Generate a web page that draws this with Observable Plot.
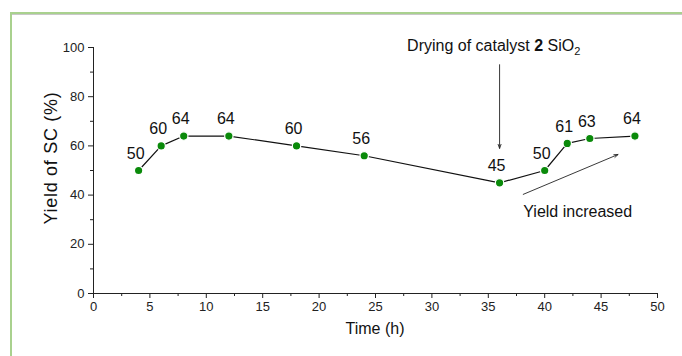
<!DOCTYPE html>
<html>
<head>
<meta charset="utf-8">
<script src="https://cdn.jsdelivr.net/npm/d3@7"></script>
<script src="https://cdn.jsdelivr.net/npm/@observablehq/plot@0.6"></script>
<style>
  html, body { margin: 0; padding: 0; background: #fff; }
  #wrap { position: relative; width: 682px; height: 356px; overflow: hidden; }
  #frame { position: absolute; left: 10px; top: 12px; width: 700px; height: 400px;
           border-top: 2px solid #a9d18e; border-left: 2px solid #a9d18e;
           box-shadow: inset 0 1px 0 #c8c8c8; pointer-events: none; }
  #chart { position: absolute; left: 0; top: 0; }
  #chart g[aria-label$="tick label"], #chart g[aria-label$="tick label"] text { font-size: 13px; fill: #222; }
</style>
</head>
<body>
<div id="wrap"><div id="chart"></div><div id="frame"></div></div>
<script>
// Data
const times  = [4, 6, 8, 12, 18, 24, 36, 40, 42, 44, 48];
const yields = [50, 60, 64, 64, 60, 56, 45, 50, 61, 63, 64];
const xMajorTicks = [0, 5, 10, 15, 20, 25, 30, 35, 40, 45, 50];
const xMinorTicks = [2.5, 7.5, 12.5, 17.5, 22.5, 27.5, 32.5, 37.5, 42.5, 47.5];
const yMajorTicks = [0, 20, 40, 60, 80, 100];
const yMinorTicks = [10, 30, 50, 70, 90];
const annotTexts = ["Drying of catalyst 2 SiO2", "Yield increased"];
const annotX = [27.8, 38.1];
const annotY = [100.8, 33.3];
const arrowX1 = [36, 38.1];
const arrowY1 = [93, 40.3];
const arrowX2 = [36, 46.5];
const arrowY2 = [59, 56.5];

const points = times.map((t, i) => ({t, y: yields[i]}));
const annots = annotTexts.map((s, i) => ({s, x: annotX[i], y: annotY[i]}));
const arrows = arrowX1.map((x1, i) => ({x1, y1: arrowY1[i], x2: arrowX2[i], y2: arrowY2[i]}));

const font = "Liberation Sans, Arial, sans-serif";

const chart = Plot.plot({
  width: 682,
  height: 356,
  marginLeft: 93,
  marginRight: 25,
  marginTop: 47,
  marginBottom: 63,
  style: {fontFamily: font, fontSize: "12px", color: "#222", background: "transparent"},
  x: {domain: [0, 50]},
  y: {domain: [0, 100]},
  marks: [
    Plot.axisX({ticks: xMajorTicks, tickSize: 5, tickPadding: 3, fontSize: 13, label: null, stroke: "#222", fill: "#222"}),
    Plot.axisX({ticks: xMinorTicks, tickSize: 3, tickFormat: () => "", label: null, stroke: "#222"}),
    Plot.axisY({ticks: yMajorTicks, tickSize: 5, tickPadding: 4, fontSize: 13, label: null, stroke: "#222", fill: "#222"}),
    Plot.axisY({ticks: yMinorTicks, tickSize: 3, tickFormat: () => "", label: null, stroke: "#222"}),
    Plot.ruleY([0], {stroke: "#222", strokeWidth: 1.2}),
    Plot.ruleX([0], {stroke: "#222", strokeWidth: 1}),
    Plot.line(points, {x: "t", y: "y", stroke: "#111", strokeWidth: 1.2}),
    Plot.dot(points, {x: "t", y: "y", r: 4.2, fill: "#0a8a0a", stroke: "#fff", strokeWidth: 1.2}),
    Plot.text(points, {x: "t", y: "y", text: d => String(d.y), dx: -3, dy: -17, fontSize: 16, fill: "#111"}),
    Plot.arrow(arrows, {x1: "x1", y1: "y1", x2: "x2", y2: "y2", stroke: "#222", strokeWidth: 0.9, headLength: 7, headAngle: 40}),
    Plot.text(annots, {x: "x", y: "y", text: "s", textAnchor: "start", fontSize: 16, fill: "#111"})
  ]
});

// Axis titles (text only)
const svg = d3.select(chart);
svg.append("text")
  .attr("transform", "translate(52,158) rotate(-90)")
  .attr("text-anchor", "middle").attr("dominant-baseline", "middle")
  .attr("font-size", 18).attr("letter-spacing", "0.7px").attr("fill", "#111").text("Yield of SC (%)");
svg.append("text")
  .attr("x", 375).attr("y", 330)
  .attr("text-anchor", "middle").attr("dominant-baseline", "middle")
  .attr("font-size", 16).attr("fill", "#111").text("Time (h)");

// Rich formatting for the annotation (bold "2", subscript "2")
svg.selectAll("text").each(function() {
  const el = d3.select(this);
  if (el.text() === "Drying of catalyst 2 SiO2") {
    el.text("");
    el.append("tspan").text("Drying of catalyst ");
    el.append("tspan").attr("font-weight", "bold").text("2");
    el.append("tspan").text(" SiO");
    el.append("tspan").attr("font-size", 11).attr("dy", 4).text("2");
  }
});

document.getElementById("chart").appendChild(chart);
</script>
</body>
</html>
